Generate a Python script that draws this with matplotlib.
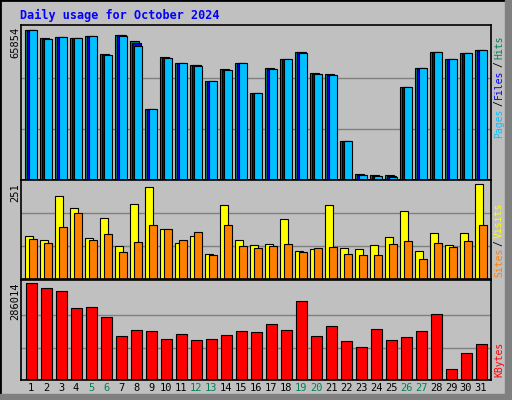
import numpy as np
import matplotlib
matplotlib.use("Agg")
from matplotlib import pyplot as plt
from matplotlib.patches import Rectangle

days = np.arange(1, 32)
weekend = [5, 6, 12, 13, 19, 20, 26, 27]

# daily values
hits = [64900, 61300, 61800, 61300, 62200, 54300, 62600, 60000, 30600, 53000,
        50400, 49500, 42900, 47700, 50400, 37600, 48100, 52100, 55200, 46000,
        45500, 17000, 2500, 2000, 2000, 40200, 48100, 55200, 52100, 54700, 56000]
files = [64900, 60900, 61800, 61300, 62200, 54000, 62600, 59200, 30600, 52800,
         50400, 49500, 42900, 47500, 50400, 37600, 47900, 52100, 55000, 45800,
         45300, 17000, 2300, 1800, 1600, 40200, 48100, 55200, 52100, 54600, 56000]
pages = [64900, 60600, 61800, 61300, 62200, 53800, 62200, 57600, 30600, 52400,
         50400, 49300, 42900, 47300, 50400, 37600, 47700, 52100, 54800, 45600,
         45100, 17000, 2300, 1600, 1200, 40200, 48100, 55200, 52100, 54600, 56000]
visits = [113, 102, 220, 188, 107, 161, 86, 198, 243, 131,
          95, 113, 67, 196, 104, 89, 92, 159, 75, 78,
          196, 81, 78, 89, 110, 180, 75, 122, 89, 122, 251]
sites = [105, 95, 137, 175, 104, 119, 70, 98, 143, 131,
         104, 124, 62, 143, 86, 81, 86, 92, 70, 81,
         84, 67, 64, 64, 92, 100, 54, 95, 84, 100, 143]
kbytes = [286014, 270300, 260900, 210800, 214000, 185800, 129400, 148200, 145100, 120000,
          135700, 116900, 120000, 132600, 145100, 142000, 164000, 148200, 232500, 129400,
          157700, 113800, 98100, 151300, 116900, 126300, 145100, 195200, 32400, 79300, 107500]

W, H = 512, 400
fig = plt.figure(figsize=(W / 100, H / 100), dpi=100)
fig.patch.set_facecolor("#c0c0c0")
fig.patches.append(Rectangle((0, 0), 1, 1, transform=fig.transFigure, fill=False,
                             edgecolor="black", lw=2))
fig.patches.append(Rectangle((505 / W, 0), 7 / W, 1, transform=fig.transFigure,
                             color="#808080"))
fig.patches.append(Rectangle((0, 0), 1, 6 / H, transform=fig.transFigure,
                             color="#808080"))

mono = "DejaVu Sans Mono"
fig.text(20 / W, 1 - 15 / H, "Daily usage for October 2024", color="#0000ff",
         fontsize=8.5, fontweight="bold", family=mono, va="center")


def panel(y0, y1):
    ax = fig.add_axes([21 / W, 1 - y1 / H, 470 / W, (y1 - y0) / H])
    ax.set_facecolor("#c0c0c0")
    ax.set_xlim(0.33, 31.67)
    ax.set_xticks([])
    ax.set_yticks([])
    for s in ax.spines.values():
        s.set_color("black")
        s.set_linewidth(1.2)
    return ax


def grid(ax, top):
    for f in (1 / 3, 2 / 3):
        ax.axhline(top * f, color="#808080", lw=1, zorder=0)


ek = dict(edgecolor="black", linewidth=0.8, align="edge")

ax1 = panel(25, 180)
ax1.set_ylim(0, 65854 * 1.015)
grid(ax1, 65854)
ax1.bar(days - 0.38, hits, 0.6, color="#00805c", **ek)
ax1.bar(days - 0.25, files, 0.6, color="#0000ff", **ek)
ax1.bar(days - 0.12, pages, 0.5, color="#00c0ff", **ek)

ax2 = panel(180, 279)
ax2.set_ylim(0, 251 * 1.04)
grid(ax2, 251 * 1.04)
ax2.bar(days - 0.38, visits, 0.53, color="#ffff00", **ek)
ax2.bar(days - 0.12, sites, 0.5, color="#ff8000", **ek)

ax3 = panel(280, 380)
ax3.set_ylim(0, 286014 * 1.03)
grid(ax3, 286014)
ax3.bar(days - 0.31, kbytes, 0.69, color="#ff0000", **ek)

for d in days:
    fig.text((21 + (d - 0.33) * 15) / W, 1 - 388 / H, str(d), ha="center", va="center",
             fontsize=7.5, family=mono,
             color="#00805c" if d in weekend else "black")

# axis max labels
for y, lab in ((27, "65854"), (183, "251"), (283, "286014")):
    fig.text(15 / W, 1 - y / H, lab, rotation=90, ha="center", va="top",
             fontsize=7.5, family=mono)


# right side legends, from bottom up
def legend(parts, ybottom):
    y = ybottom
    for txt, col in parts:
        fig.text(499 / W, 1 - y / H, txt, rotation=90, ha="center", va="bottom",
                 fontsize=7, family=mono, color=col)
        y -= len(txt) * 5.9 + 2


legend([("Pages", "#00c0ff"), ("/", "black"), ("Files", "#0000ff"),
        ("/", "black"), ("Hits", "#00805c")], 138)
legend([("Sites", "#ff8000"), ("/", "black"), ("Visits", "#ffff00")], 277)
legend([("KBytes", "#ff0000")], 377)

fig.savefig("out.png", dpi=100, facecolor=fig.get_facecolor())
